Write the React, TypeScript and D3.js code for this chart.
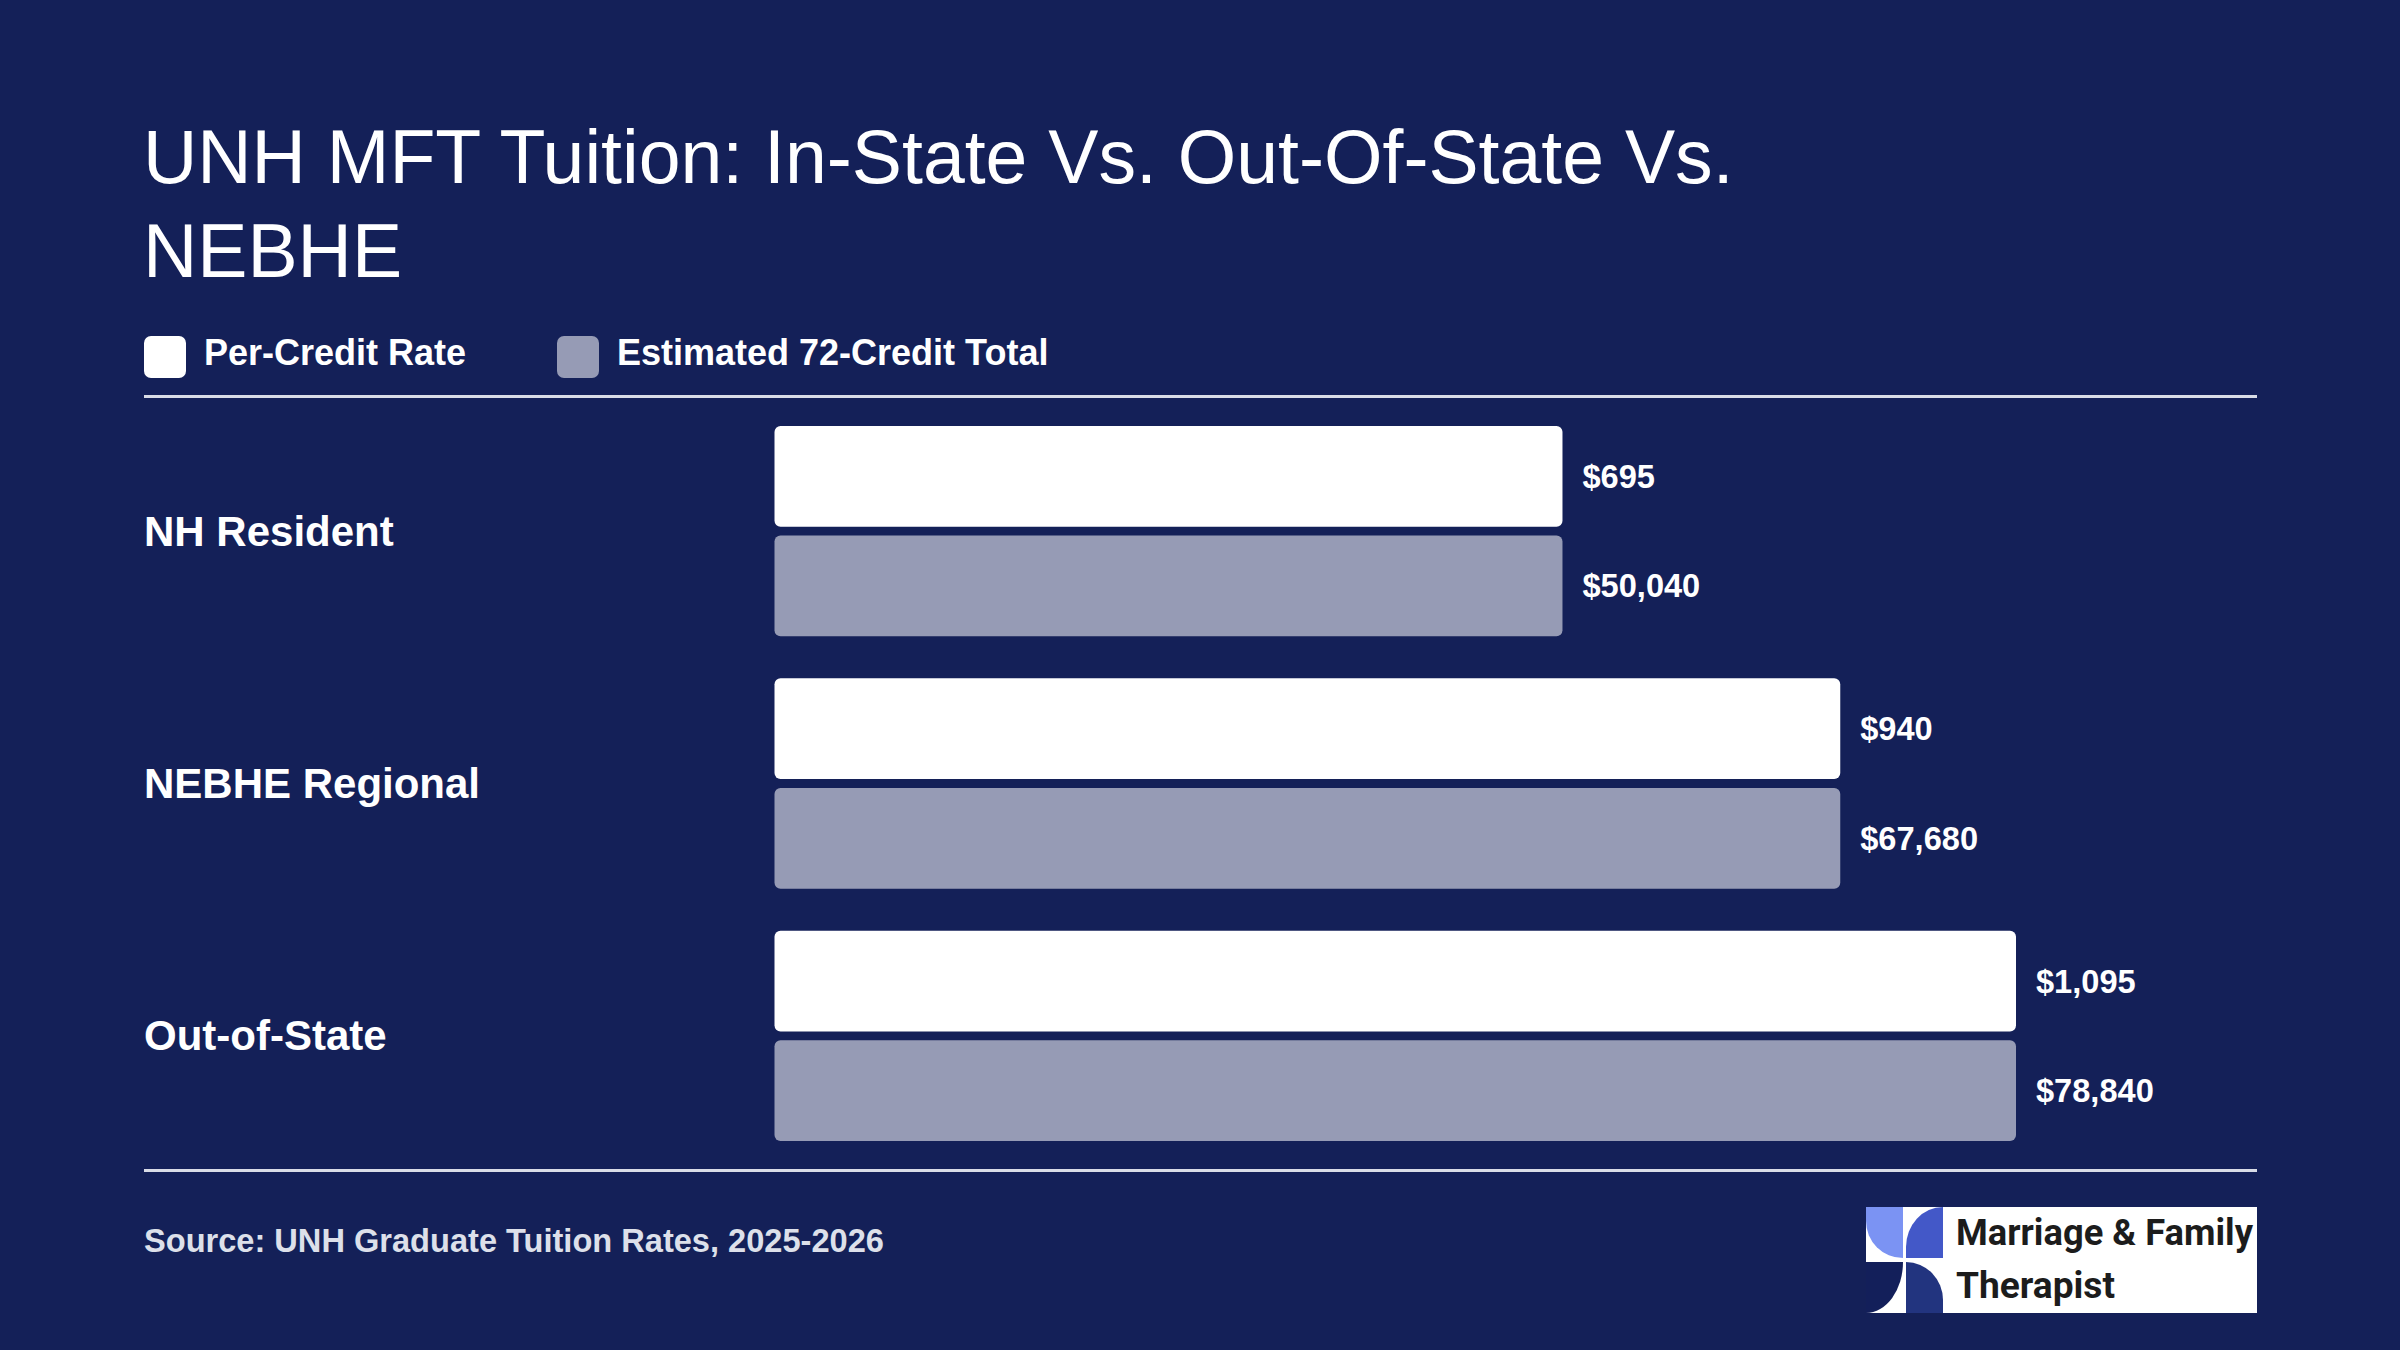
import React from "react";
import * as d3 from "d3";

const categories = ["NH Resident", "NEBHE Regional", "Out-of-State"];
const perCreditRate = [695, 940, 1095];
const creditTotal = [50040, 67680, 78840];
const seriesNames = ["Per-Credit Rate", "Estimated 72-Credit Total"];
const seriesColors = ["#ffffff", "#969bb5"];
const titleLines = ["UNH MFT Tuition: In-State Vs. Out-Of-State Vs.", "NEBHE"];
const sourceText = "Source: UNH Graduate Tuition Rates, 2025-2026";

const W = 2400;
const H = 1350;
const BG = "#142058";
const FONT = "'Liberation Sans', Arial, Helvetica, sans-serif";

export default function App() {
  const plotLeft = 774.5;
  const plotRight = 2016;
  const lineTop = 396.5;
  const lineBottom = 1170.5;

  const y = d3
    .scaleBand<string>()
    .domain(categories)
    .range([lineTop, lineBottom])
    .paddingInner(0.1667)
    .paddingOuter(0.117);

  const ySub = d3
    .scaleBand<string>()
    .domain(seriesNames)
    .range([0, y.bandwidth()])
    .paddingInner(0.08);

  const xRate = d3
    .scaleLinear()
    .domain([0, d3.max(perCreditRate) as number])
    .range([plotLeft, plotRight]);
  const xTotal = d3
    .scaleLinear()
    .domain([0, d3.max(creditTotal) as number])
    .range([plotLeft, plotRight]);

  const fmt = d3.format("$,");

  const series = [
    { name: seriesNames[0], values: perCreditRate, x: xRate, color: seriesColors[0] },
    { name: seriesNames[1], values: creditTotal, x: xTotal, color: seriesColors[1] },
  ];

  const lx0 = 1866, lx1 = 2257, ly0 = 1207, ly1 = 1313;

  return (
    <svg
      width={W}
      height={H}
      viewBox={`0 0 ${W} ${H}`}
      style={{ position: "absolute", left: 0, top: 0, display: "block" }}
    >
      <rect x={0} y={0} width={W} height={H} fill={BG} />

      {titleLines.map((t, i) => (
        <text
          key={i}
          x={143}
          y={183 + i * 94}
          fill="#ffffff"
          fontFamily={FONT}
          fontSize={75.2}
          fontWeight={400}
        >
          {t}
        </text>
      ))}

      <g fontFamily={FONT} fontWeight={700} fontSize={36} fill="#ffffff">
        <rect x={144} y={336} width={42} height={42} rx={7} fill={seriesColors[0]} />
        <text x={204} y={365}>{seriesNames[0]}</text>
        <rect x={557} y={336} width={42} height={42} rx={7} fill={seriesColors[1]} />
        <text x={617} y={365}>{seriesNames[1]}</text>
      </g>

      <line x1={144} x2={2257} y1={lineTop} y2={lineTop} stroke="#d9dce7" strokeWidth={3} />
      <line x1={144} x2={2257} y1={lineBottom} y2={lineBottom} stroke="#d9dce7" strokeWidth={3} />

      {categories.map((c, ci) => {
        const g0 = y(c) as number;
        return (
          <g key={c}>
            <text
              x={144}
              y={g0 + y.bandwidth() / 2 + 14.5}
              fill="#ffffff"
              fontFamily={FONT}
              fontWeight={700}
              fontSize={42}
            >
              {c}
            </text>
            {series.map((s) => {
              const by = g0 + (ySub(s.name) as number);
              const bw = s.x(s.values[ci]) - plotLeft;
              return (
                <g key={s.name}>
                  <rect
                    x={plotLeft}
                    y={by}
                    width={bw}
                    height={ySub.bandwidth()}
                    rx={6}
                    fill={s.color}
                  />
                  <text
                    x={plotLeft + bw + 20}
                    y={by + ySub.bandwidth() / 2 + 11.5}
                    fill="#ffffff"
                    fontFamily={FONT}
                    fontWeight={700}
                    fontSize={32.6}
                  >
                    {fmt(s.values[ci])}
                  </text>
                </g>
              );
            })}
          </g>
        );
      })}

      <text x={144} y={1251.5} fill="#dde0ea" fontFamily={FONT} fontWeight={700} fontSize={32.6}>
        {sourceText}
      </text>

      <g>
        <rect x={lx0} y={ly0} width={lx1 - lx0} height={ly1 - ly0} fill="#ffffff" />
        <path d={`M1866,1207 H1903 V1258 A37,37 0 0 1 1866,1221 Z`} fill="#7b93f3" />
        <path d={`M1943,1207 V1258 H1906 V1247 A37,40 0 0 1 1943,1207 Z`} fill="#4358c8" />
        <path d={`M1866,1262 H1903 A37,51 0 0 1 1866,1313 Z`} fill="#131f5a" />
        <path d={`M1906,1262 A37,38 0 0 1 1943,1300 V1313 H1906 Z`} fill="#22347f" />
        <text
          x={1956}
          y={1245}
          fill="#1c1c1c"
          fontFamily="Roboto, 'Liberation Sans', sans-serif"
          fontWeight={700}
          fontSize={37}
          textLength={297}
          lengthAdjust="spacingAndGlyphs"
        >
          Marriage &amp; Family
        </text>
        <text
          x={1956}
          y={1298}
          fill="#1c1c1c"
          fontFamily="Roboto, 'Liberation Sans', sans-serif"
          fontWeight={700}
          fontSize={37}
          textLength={159}
          lengthAdjust="spacingAndGlyphs"
        >
          Therapist
        </text>
      </g>
    </svg>
  );
}
